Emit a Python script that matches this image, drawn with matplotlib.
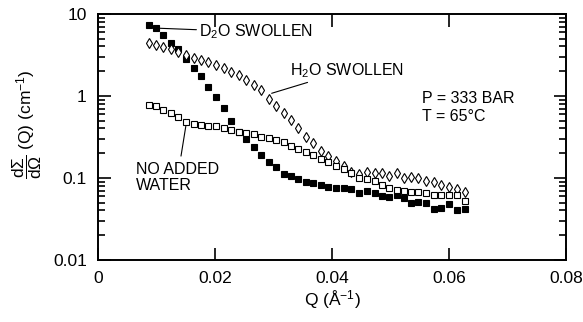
import matplotlib
matplotlib.use("Agg")
import matplotlib.pyplot as plt
from matplotlib.ticker import NullFormatter, FixedLocator

### Data
q = [0.00872, 0.00986, 0.01111, 0.01243, 0.01373, 0.01509, 0.01636, 0.01766,
     0.01885, 0.02012, 0.02149, 0.02279, 0.02410, 0.02535, 0.02667, 0.02786,
     0.02923, 0.03048, 0.03179, 0.03294, 0.03419, 0.03550, 0.03680, 0.03817,
     0.03937, 0.04063, 0.04205, 0.04330, 0.04462, 0.04593, 0.04730, 0.04860,
     0.04974, 0.05106, 0.05231, 0.05356, 0.05475, 0.05603, 0.05744, 0.05868,
     0.06000, 0.06132, 0.06268]

d2o_swollen = [7.35, 6.70, 5.54, 4.47, 3.71, 2.81, 2.18, 1.75, 1.30, 0.96,
               0.71, 0.50, 0.367, 0.299, 0.241, 0.189, 0.154, 0.134, 0.111,
               0.104, 0.097, 0.090, 0.086, 0.082, 0.078, 0.075, 0.076, 0.073,
               0.066, 0.070, 0.065, 0.060, 0.058, 0.062, 0.0565, 0.050, 0.0514,
               0.050, 0.0415, 0.0427, 0.048, 0.040, 0.0415]

h2o_swollen = [4.37, 4.13, 3.93, 3.69, 3.39, 3.16, 2.91, 2.77, 2.60, 2.39,
               2.18, 1.98, 1.80, 1.58, 1.36, 1.17, 0.92, 0.755, 0.62, 0.51,
               0.41, 0.319, 0.269, 0.215, 0.185, 0.161, 0.140, 0.119, 0.110,
               0.118, 0.114, 0.1135, 0.106, 0.114, 0.099, 0.101, 0.099, 0.092,
               0.088, 0.081, 0.0765, 0.073, 0.068]

no_added_water = [0.776, 0.745, 0.675, 0.612, 0.550, 0.475, 0.449, 0.436,
                  0.430, 0.424, 0.407, 0.385, 0.361, 0.351, 0.344, 0.319,
                  0.303, 0.291, 0.271, 0.246, 0.227, 0.209, 0.191, 0.168,
                  0.155, 0.140, 0.129, 0.114, 0.100, 0.096, 0.0906, 0.0828,
                  0.0748, 0.0714, 0.0685, 0.0665, 0.0665, 0.0662, 0.0621,
                  0.0626, 0.0621, 0.0612, 0.0525]

x_ticks = [0, 0.02, 0.04, 0.06, 0.08]
x_ticklabels = ["0", "0.02", "0.04", "0.06", "0.08"]
y_ticks = [0.01, 0.1, 1, 10]
y_ticklabels = ["0.01", "0.1", "1", "10"]

### Style
plt.rcParams['font.family'] = ['Liberation Sans', 'DejaVu Sans']
plt.rcParams['mathtext.fontset'] = 'custom'
plt.rcParams['mathtext.rm'] = 'Liberation Sans'
plt.rcParams['mathtext.it'] = 'Liberation Sans'
plt.rcParams['mathtext.bf'] = 'Liberation Sans:bold'

fig = plt.figure(figsize=(5.83, 3.22), dpi=100)
ax = fig.add_axes([0.168, 0.193, 0.803, 0.764])

ax.plot(q, d2o_swollen, 's', color='black', ms=5, mew=0.8, mfc='black')
ax.plot(q, h2o_swollen, 'd', color='black', ms=5.5, mew=0.8, mfc='white')
ax.plot(q, no_added_water, 's', color='black', ms=5, mew=0.8, mfc='white')

ax.set_yscale('log')
ax.set_xlim(0, 0.08)
ax.set_ylim(0.01, 10)

ax.xaxis.set_major_locator(FixedLocator(x_ticks))
ax.set_xticklabels(x_ticklabels)
ax.yaxis.set_major_locator(FixedLocator(y_ticks))
ax.set_yticklabels(y_ticklabels)
# log minor ticks 2..9 in each decade
minor_y = [m * d for d in [0.01, 0.1, 1] for m in range(2, 10)]
ax.yaxis.set_minor_locator(FixedLocator(minor_y))
ax.yaxis.set_minor_formatter(NullFormatter())
ax.xaxis.set_minor_locator(FixedLocator([]))

ax.tick_params(which='both', direction='in', top=True, right=True,
               labelsize=12.5, width=1.2, pad=8, color='black')
ax.tick_params(which='major', length=9)
ax.tick_params(which='minor', length=5)
for sp in ax.spines.values():
    sp.set_linewidth(1.4)

ax.set_xlabel('Q (Å$^{-1}$)', fontsize=12.5, labelpad=2)
ax.set_ylabel(r'$\dfrac{\mathrm{d}\Sigma}{\mathrm{d}\Omega}$ (Q) (cm$^{-1}$)', fontsize=12.5)
ax.yaxis.set_label_coords(-0.115, 0.55)

# annotations
fs = 11.5
ax.annotate('D$_2$O SWOLLEN', xy=(0.00986, 6.7), xytext=(0.0173, 6.0),
            fontsize=fs, va='center', ha='left',
            arrowprops=dict(arrowstyle='-', color='black', lw=0.8, shrinkA=0, shrinkB=3))
ax.annotate('H$_2$O SWOLLEN', xy=(0.02923, 1.05), xytext=(0.0329, 2.05),
            fontsize=fs, va='center', ha='left',
            arrowprops=dict(arrowstyle='-', color='black', lw=0.8, shrinkA=0, shrinkB=2))
ax.annotate('NO ADDED\nWATER', xy=(0.01509, 0.46), xytext=(0.0065, 0.101),
            fontsize=fs, va='center', ha='left', linespacing=1.15,
            arrowprops=dict(arrowstyle='-', color='black', lw=0.8, shrinkA=2, shrinkB=2))
ax.text(0.0553, 0.724, 'P = 333 BAR\nT = 65°C', fontsize=fs, va='center',
        ha='left', linespacing=1.25)

fig.savefig('out.png', dpi=100)
